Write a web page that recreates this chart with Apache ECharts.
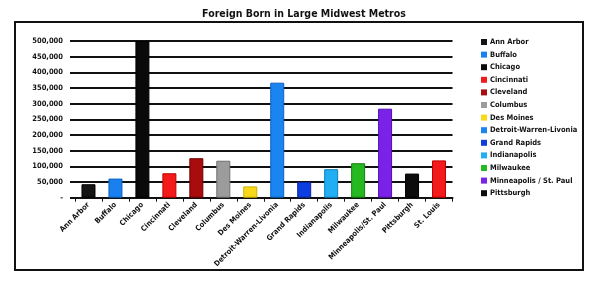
<!DOCTYPE html>
<html>
<head>
<meta charset="utf-8">
<script src="https://cdn.jsdelivr.net/npm/echarts@6/dist/echarts.min.js"></script>
<style>
html,body{margin:0;padding:0;background:#fff;}
#c{width:600px;height:282px;}
</style>
</head>
<body>
<div id="c"></div>
<script>
var titleText = 'Foreign Born in Large Midwest Metros';
var cities = ['Ann Arbor','Buffalo','Chicago','Cincinnati','Cleveland','Columbus','Des Moines','Detroit-Warren-Livonia','Grand Rapids','Indianapolis','Milwaukee','Minneapolis/St. Paul','Pittsburgh','St. Louis'];
var legendNames = ['Ann Arbor','Buffalo','Chicago','Cincinnati','Cleveland','Columbus','Des Moines','Detroit-Warren-Livonia','Grand Rapids','Indianapolis','Milwaukee','Minneapolis / St. Paul','Pittsburgh'];
var values = [43000, 61000, 500000, 78000, 126000, 118000, 36000, 367000, 50000, 91000, 110000, 284000, 77000, 119000];
var colors = ['#141414','#1a80f0','#0a0a0a','#f21a1a','#a80c0c','#9c9c9c','#f8d81a','#1a84f0','#0c3ee0','#22aef2','#26b820','#7a22e8','#0c0c0c','#f21a1a'];
var borders = ['#000000','#0d5fc0','#000000','#c00000','#700000','#707070','#d0b000','#0d60c0','#0828a0','#1080c0','#168010','#5010b0','#000000','#c00000'];
var yTickLabels = ['-','50,000','100,000','150,000','200,000','250,000','300,000','350,000','400,000','450,000','500,000'];

var FONT = "'Liberation Sans Narrow','DejaVu Sans Condensed','Arial Narrow',sans-serif";
var chart = echarts.init(document.getElementById('c'), null, {renderer:'canvas'});

var series = [];
for (var i = 0; i < cities.length; i++) {
  var d = cities.map(function(){ return null; });
  d[i] = values[i];
  series.push({
    name: i < legendNames.length ? legendNames[i] : cities[i],
    type: 'bar',
    data: d,
    barWidth: 14,
    barGap: '-100%',
    itemStyle: {color: colors[i], borderColor: borders[i], borderWidth: 1},
    z: 3
  });
}

chart.setOption({
  animation: false,
  title: {
    text: titleText, left: 299, top: 4, textAlign: 'center',
    textStyle: {fontFamily: FONT, fontSize: 10.5, fontWeight: 'bold', color: '#111'}
  },
  graphic: [{
    type: 'rect', shape: {x: 15, y: 22, width: 568, height: 248},
    style: {fill: 'none', stroke: '#111', lineWidth: 2}, z: 0
  }],
  legend: {
    orient: 'vertical', left: 476, top: 32.5, data: legendNames,
    icon: 'rect', itemWidth: 6, itemHeight: 6, itemGap: 3.6,
    selectedMode: false,
    itemStyle: {borderWidth: 0},
    textStyle: {fontFamily: FONT, fontSize: 7.5, fontWeight: 'bold', color: '#111', lineHeight: 9, padding: [0,0,0,-2]}
  },
  grid: {left: 75, top: 41, width: 377.5, height: 156.7, containLabel: false},
  xAxis: {
    type: 'category', data: cities,
    axisLine: {show: true, lineStyle: {color: '#111', width: 2}},
    axisTick: {show: true, length: 4, lineStyle: {color: '#111', width: 1}},
    axisLabel: {interval: 0, rotate: 45, margin: 6, fontFamily: FONT, fontSize: 7.5, fontWeight: 'bold', color: '#111'}
  },
  yAxis: {
    type: 'value', min: 0, max: 500000, interval: 50000,
    axisLine: {show: false},
    axisTick: {show: true, length: 5, lineStyle: {color: '#111', width: 2}},
    splitLine: {show: true, lineStyle: {color: '#111', width: 2}},
    axisLabel: {
      margin: 12, fontFamily: FONT, fontSize: 7.5, fontWeight: 'bold', color: '#111',
      formatter: function(v){ return yTickLabels[Math.round(v/50000)]; }
    }
  },
  series: series
});
</script>
</body>
</html>
